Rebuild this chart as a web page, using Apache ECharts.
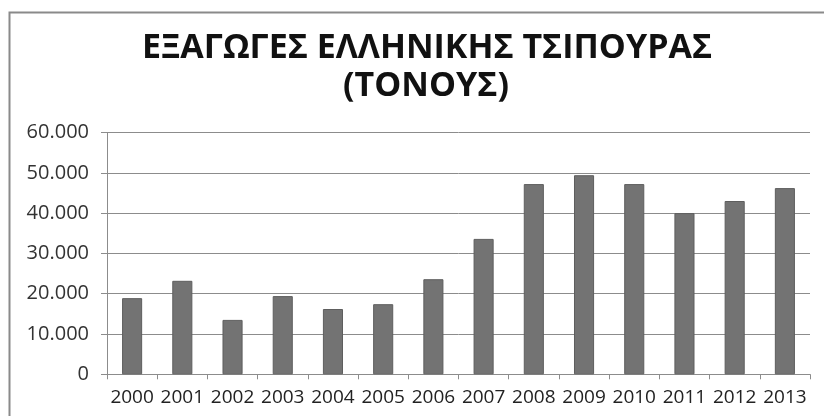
<!DOCTYPE html>
<html>
<head>
<meta charset="utf-8">
<script src="https://cdn.jsdelivr.net/npm/echarts@6/dist/echarts.min.js"></script>
<style>html,body{margin:0;padding:0;background:#fff;}#c{width:824px;height:416px;}</style>
</head>
<body>
<div id="c"></div>
<script>
var titleLine1 = 'ΕΞΑΓΩΓΕΣ ΕΛΛΗΝΙΚΗΣ ΤΣΙΠΟΥΡΑΣ';
var titleLine2 = '(ΤΟΝΟΥΣ)';
var years = ['2000','2001','2002','2003','2004','2005','2006','2007','2008','2009','2010','2011','2012','2013'];
var tonnes = [18900, 23200, 13500, 19400, 16200, 17400, 23600, 33600, 47200, 49400, 47200, 40000, 43000, 46200];
var yMin = 0, yMax = 60000, yStep = 10000;

function fmt(v){ return String(v).replace(/\B(?=(\d{3})+(?!\d))/g, '.'); }

var chart = echarts.init(document.getElementById('c'), null, {renderer:'canvas'});
chart.setOption({
  animation: false,
  backgroundColor: '#ffffff',
  graphic: [{
    type: 'rect', left: 7, top: 10, shape: {width: 840, height: 430},
    style: {fill: 'none', stroke: '#8a8a8a', lineWidth: 2}, silent: true, z: -1
  }],
  title: [{
    text: titleLine1, left: 422, top: 26, textAlign: 'center',
    textStyle: {fontFamily: 'Open Sans', fontWeight: 'bold', fontSize: 34, color: '#111'}
  },{
    text: titleLine2, left: 421, top: 64, textAlign: 'center',
    textStyle: {fontFamily: 'Open Sans', fontWeight: 'bold', fontSize: 34, color: '#111'}
  }],
  grid: {left: 107, right: 14, top: 132.5, bottom: 41.7, containLabel: false},
  xAxis: {
    type: 'category', data: years,
    axisLine: {lineStyle: {color: '#8c8c8c', width: 1}},
    axisTick: {show: true, length: 5, alignWithLabel: false, lineStyle: {color: '#8c8c8c'}},
    axisLabel: {interval: 0, margin: 14, fontFamily: 'Open Sans', fontSize: 19, color: '#222'}
  },
  yAxis: {
    type: 'value', min: yMin, max: yMax, interval: yStep,
    axisLine: {show: true, lineStyle: {color: '#8c8c8c', width: 1}},
    axisTick: {show: true, length: 6, lineStyle: {color: '#8c8c8c'}},
    splitLine: {show: true, lineStyle: {color: '#8c8c8c', width: 1}},
    axisLabel: {margin: 18, fontFamily: 'Open Sans', fontSize: 20, color: '#333', formatter: fmt}
  },
  series: [{
    type: 'bar', data: tonnes, barCategoryGap: '60%',
    itemStyle: {color: '#737373', borderColor: '#5e5e5e', borderWidth: 1}
  }]
});
</script>
</body>
</html>
